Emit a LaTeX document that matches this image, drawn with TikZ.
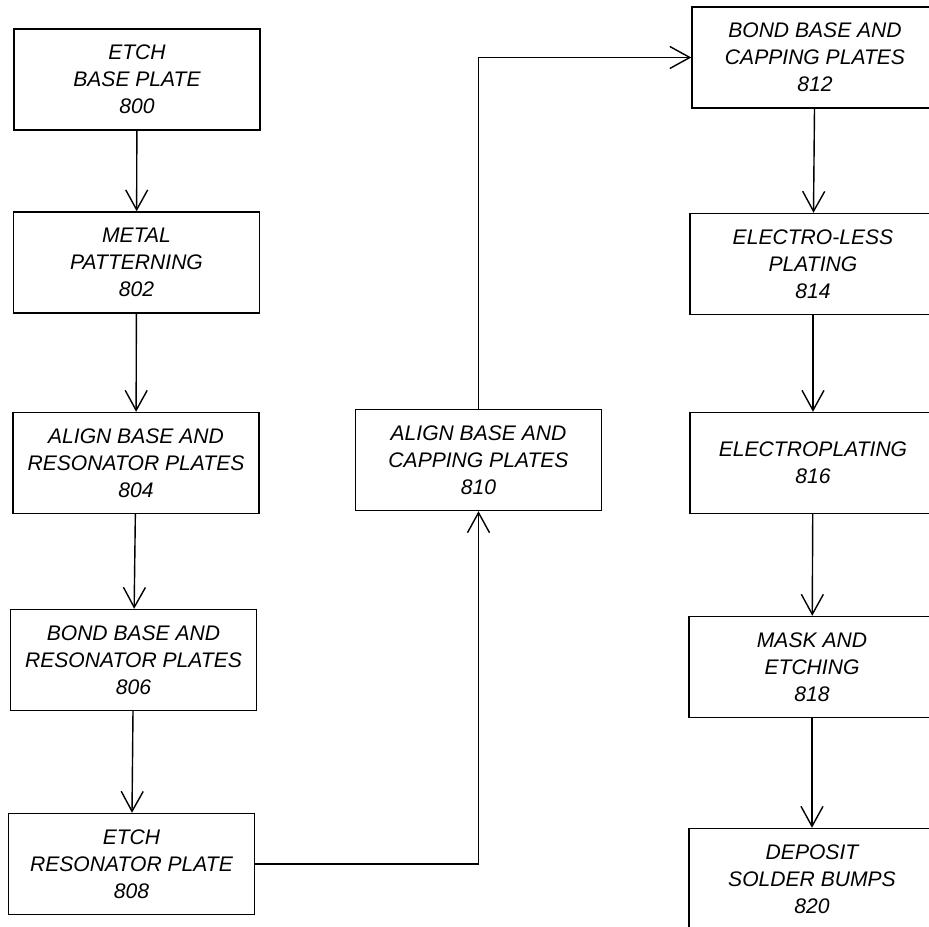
\documentclass[tikz,border=0pt]{standalone}
\usepackage{fontspec}
\setmainfont{Liberation Sans}
\usetikzlibrary{arrows.meta}

\begin{document}
\begin{tikzpicture}[stepbox/.style={draw, line width=0.8pt, minimum width=4.92cm, minimum height=2.02cm, inner sep=0pt, align=center, font=\itshape\fontsize{12}{15.4}\selectfont}, flow/.style={line width=0.8pt, -{Straight Barb[length=4mm,width=4.4mm]}}]
\useasboundingbox (0,0) rectangle (18.58,-18.54);
\node[stepbox] (s800) at (2.74,-1.59){ETCH\\BASE PLATE\\800};
\node[stepbox] (s802) at (2.73,-5.25){METAL\\PATTERNING\\802};
\node[stepbox] (s804) at (2.72,-9.26){ALIGN BASE AND\\RESONATOR PLATES\\804};
\node[stepbox] (s806) at (2.67,-13.2){BOND BASE AND\\RESONATOR PLATES\\806};
\node[stepbox] (s808) at (2.63,-17.28){ETCH\\RESONATOR PLATE\\808};
\node[stepbox] (s810) at (9.57,-9.2){ALIGN BASE AND\\CAPPING PLATES\\810};
\node[stepbox] (s812) at (16.3,-1.15){BOND BASE AND\\CAPPING PLATES\\812};
\node[stepbox] (s814) at (16.26,-5.28){ELECTRO-LESS\\PLATING\\814};
\node[stepbox] (s816) at (16.26,-9.26){ELECTROPLATING\\816};
\node[stepbox] (s818) at (16.24,-13.34){MASK AND\\ETCHING\\818};
\node[stepbox] (s820) at (16.24,-17.58){DEPOSIT\\SOLDER BUMPS\\820};

\draw[flow] (s800)--(s802);\draw[flow] (s802)--(s804);\draw[flow] (s804)--(s806);\draw[flow] (s806)--(s808);
\draw[flow] (s808.east) -| (s810.south);
\draw[flow] (s810.north) |- (s812.west);
\draw[flow] (s812)--(s814);\draw[flow] (s814)--(s816);\draw[flow] (s816)--(s818);\draw[flow] (s818)--(s820);
\end{tikzpicture}
\end{document}
